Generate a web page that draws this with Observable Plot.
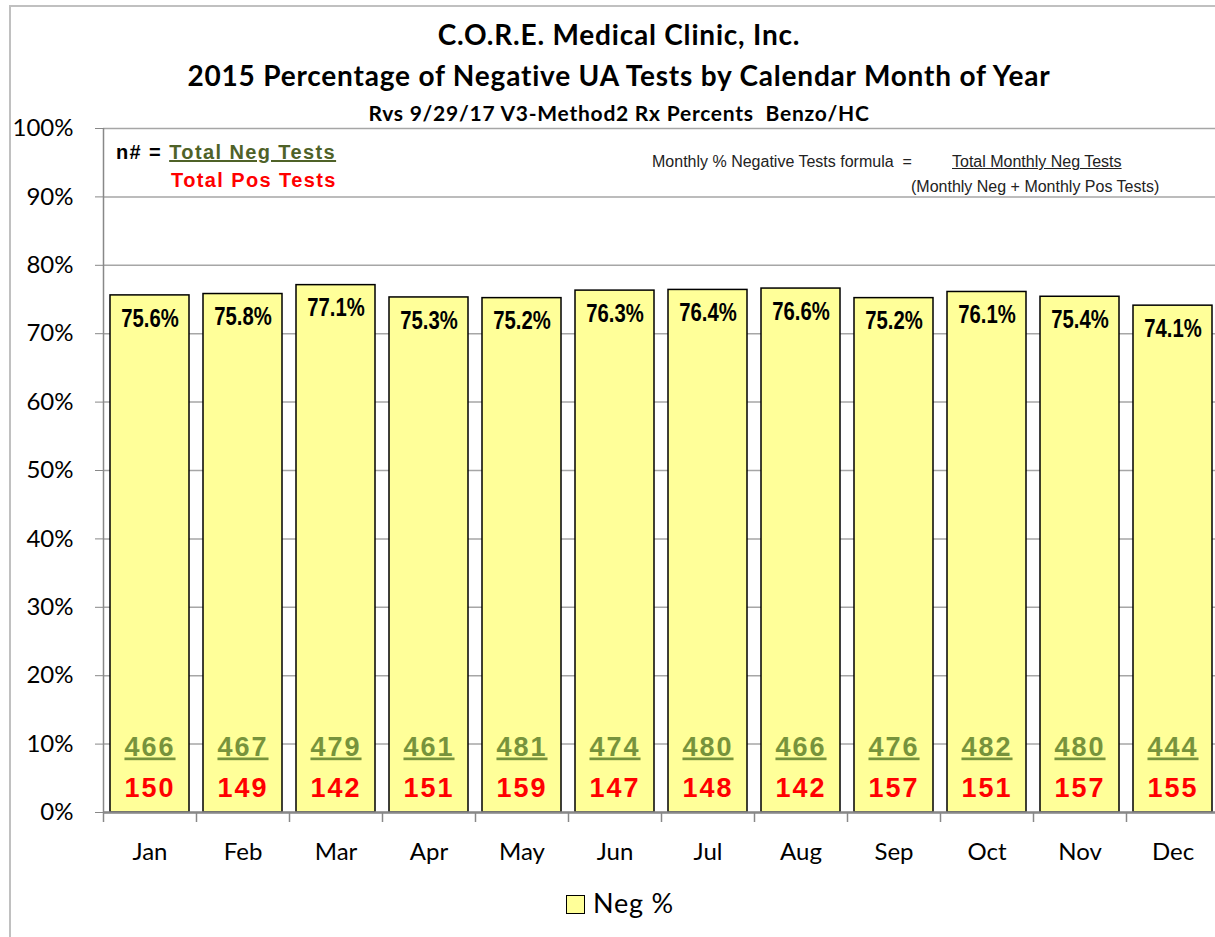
<!DOCTYPE html>
<html>
<head>
<meta charset="utf-8">
<script src="https://cdn.jsdelivr.net/npm/d3@7"></script>
<script src="https://cdn.jsdelivr.net/npm/@observablehq/plot@0.6"></script>
<style>
  html, body { margin: 0; padding: 0; background: #fff; }
  body { width: 1215px; height: 937px; overflow: hidden; position: relative; }
  #frame { position: absolute; left: 9px; top: 5px; width: 1400px; height: 1100px; border: 2px solid #c0c0c0; }
  #chart { position: absolute; left: 0; top: 0; width: 1300px; }
  .t { position: absolute; white-space: nowrap; line-height: 1; }
  .title { left: 0; width: 1238px; text-align: center; font-family: Lato, sans-serif; font-weight: bold; color: #000; }
  .negnum text { text-decoration: underline; text-decoration-thickness: 2px; }
  .negnum text, .posnum text { letter-spacing: 2px; }
  .ann { font-family: "Liberation Sans", Arial, sans-serif; font-weight: bold; font-size: 20px; letter-spacing: 1.4px; }
  .formula { font-family: "Liberation Sans", Arial, sans-serif; font-size: 16px; color: #222; }
</style>
</head>
<body>
<div id="frame"></div>
<div id="chart"></div>
<div class="t title" style="top:20px; font-size:28px; letter-spacing:0.8px;">C.O.R.E. Medical Clinic, Inc.</div>
<div class="t title" style="top:61px; font-size:28px; letter-spacing:0.8px;">2015 Percentage of Negative UA Tests by Calendar Month of Year</div>
<div class="t title" style="top:102px; font-size:21px; letter-spacing:0.75px;">Rvs 9/29/17 V3-Method2 Rx Percents&nbsp; Benzo/HC</div>
<div class="t ann" style="left:116px; top:142px;">n# = <span style="color:#4F6228; text-decoration: underline; text-decoration-thickness: 2px;">Total Neg Tests</span></div>
<div class="t ann" style="left:171px; top:170px; color:#ff0000;">Total Pos Tests</div>
<div class="t formula" style="left:652px; top:154px;">Monthly % Negative Tests formula&nbsp; =</div>
<div class="t formula" style="left:952px; top:154px; text-decoration: underline;">Total Monthly Neg Tests</div>
<div class="t formula" style="left:911px; top:179px;">(Monthly Neg + Monthly Pos Tests)</div>
<div class="t" style="left:566px; top:895px; width:17px; height:17px; background:#FFFF99; border:1.5px solid #000;"></div>
<div class="t" style="left:593px; top:889px; font-family: Lato, sans-serif; font-size:27px; letter-spacing:0.8px;">Neg %</div>
<script>
const months = ["Jan","Feb","Mar","Apr","May","Jun","Jul","Aug","Sep","Oct","Nov","Dec"];
const negPct = [75.6, 75.8, 77.1, 75.3, 75.2, 76.3, 76.4, 76.6, 75.2, 76.1, 75.4, 74.1];
const negTests = [466, 467, 479, 461, 481, 474, 480, 466, 476, 482, 480, 444];
const posTests = [150, 149, 142, 151, 159, 147, 148, 142, 157, 151, 157, 155];
const yTicks = [0, 10, 20, 30, 40, 50, 60, 70, 80, 90, 100];

const data = months.map((m, i) => ({month: m, pct: negPct[i], neg: negTests[i], pos: posTests[i]}));

const arial = '"Liberation Sans", Arial, sans-serif';

const chart = Plot.plot({
  width: 1225,
  height: 937,
  marginLeft: 103,
  marginRight: 6,
  marginTop: 128,
  marginBottom: 125,
  style: {maxWidth: "none", background: "transparent", fontFamily: "Lato, sans-serif", overflow: "visible"},
  x: {domain: months, paddingInner: 0.15, paddingOuter: 0.075, label: null},
  y: {domain: [0, 100], label: null},
  marks: [
    Plot.gridY(yTicks, {stroke: "#a6a6a6", strokeOpacity: 1, strokeWidth: 1.5}),
    Plot.ruleX(months, {x: d => d, y1: 0, y2: 0, dx: -46.5, insetBottom: -10, stroke: "#888", strokeWidth: 1.5}),
    Plot.barY(data, {x: "month", y: "pct", fill: "#FFFF99", stroke: "#000", strokeWidth: 1.5}),
    Plot.ruleY([0], {stroke: "#888", strokeWidth: 2.5}),
    Plot.ruleX([months[0]], {x: d => d, dx: -46.5, stroke: "#888", strokeWidth: 1.5}),
    Plot.axisY({ticks: yTicks, tickFormat: d => d + "%", tickSize: 8, tickPadding: 22, fontSize: 24, stroke: "#888", fill: "#000"}),
    Plot.axisX({tickSize: 0, tickPadding: 30, fontSize: 24, fill: "#000"}),
    Plot.text(data, {x: "month", y: "pct", text: d => d.pct.toFixed(1) + "%", dy: 23, fontSize: 26, fontWeight: "bold", fontFamily: arial, fill: "#000", className: "pctlbl"}),
    Plot.text(data, {x: "month", frameAnchor: "bottom", text: d => String(d.neg), dy: -57, fontSize: 27, fontWeight: "bold", fontFamily: arial, fill: "#77933C", className: "negnum"}),
    Plot.text(data, {x: "month", frameAnchor: "bottom", text: d => String(d.pos), dy: -16, fontSize: 27, fontWeight: "bold", fontFamily: arial, fill: "#ff0000", className: "posnum"})
  ]
});
document.getElementById("chart").appendChild(chart);
// condense the percentage labels like the narrow font of the original
d3.select(chart).selectAll(".pctlbl text").each(function () {
  const t = this.getAttribute("transform") || "";
  this.setAttribute("transform", t + " scale(0.78,1)");
});
</script>
</body>
</html>
